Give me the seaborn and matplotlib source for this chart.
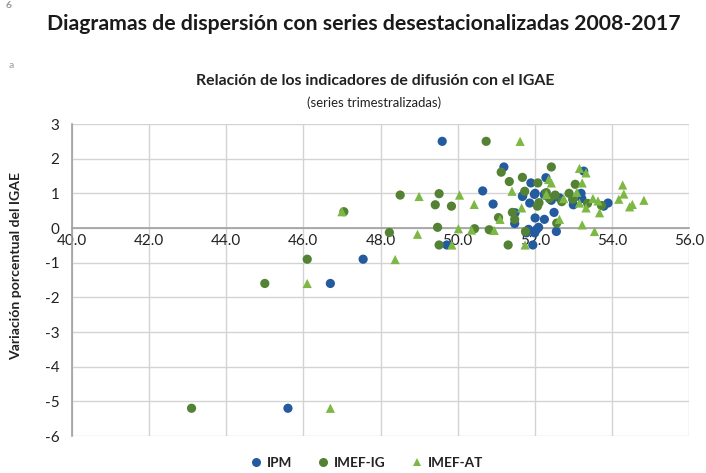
import matplotlib
matplotlib.use("Agg")
import matplotlib.pyplot as plt
import seaborn as sns
import pandas as pd
from matplotlib.lines import Line2D

# ---- data ----
ipm_x = [45.6, 46.7, 47.55, 49.6, 51.2, 53.27, 52.29, 51.9, 50.65, 52.01, 51.68, 52.43, 51.87,
         50.92, 53.0, 53.22, 53.2, 53.9, 53.79, 52.5, 51.49, 52.01, 52.25, 51.48, 52.1, 52.05,
         51.84, 52.56, 52.0, 49.72, 51.95, 52.26, 52.64, 52.99, 51.69, 51.99, 52.25, 51.78]
ipm_y = [-5.2, -1.6, -0.9, 2.5, 1.76, 1.64, 1.45, 1.30, 1.07, 1.0, 0.91, 0.80, 0.72,
         0.69, 0.67, 0.85, 1.0, 0.72, 0.63, 0.45, 0.44, 0.29, 0.25, 0.13, 0.02, -0.04,
         -0.04, -0.1, -0.14, -0.49, -0.49, 0.99, 0.87, 0.82, 0.94, 0.97, 0.95, -0.14]

ig_x = [43.1, 45.0, 46.1, 47.05, 50.74, 52.43, 51.13, 51.34, 51.68, 52.08, 53.05, 51.74, 48.51,
        49.52, 52.3, 52.53, 52.89, 52.99, 52.38, 52.7, 53.37, 53.73, 52.11, 52.07, 49.42, 49.84,
        51.06, 51.42, 51.48, 52.57, 49.48, 50.44, 50.82, 51.76, 48.23, 49.52, 51.31]
ig_y = [-5.2, -1.6, -0.9, 0.47, 2.5, 1.76, 1.61, 1.34, 1.46, 1.30, 1.26, 1.06, 0.95,
        0.99, 1.02, 0.95, 1.0, 0.83, 0.85, 0.76, 0.71, 0.65, 0.73, 0.63, 0.67, 0.63,
        0.30, 0.45, 0.25, 0.14, 0.02, -0.02, -0.05, -0.1, -0.13, -0.49, -0.49]

at_x = [46.7, 46.1, 48.38, 47.0, 51.62, 53.16, 53.33, 52.36, 52.43, 53.23, 54.28, 51.41, 53.09,
        54.31, 49.0, 50.05, 52.3, 52.75, 53.51, 53.64, 54.18, 54.83, 54.53, 54.46, 50.43, 53.16,
        53.33, 51.66, 53.68, 51.1, 52.64, 53.23, 50.02, 50.36, 50.95, 53.55, 48.96, 49.85, 51.75]
at_y = [-5.2, -1.6, -0.91, 0.47, 2.5, 1.72, 1.59, 1.40, 1.30, 1.30, 1.24, 1.06, 1.03,
        0.98, 0.91, 0.95, 0.97, 0.85, 0.85, 0.78, 0.83, 0.80, 0.68, 0.61, 0.68, 0.72,
        0.58, 0.58, 0.44, 0.25, 0.25, 0.09, -0.02, -0.06, -0.07, -0.1, -0.18, -0.49, -0.49]

series_names = ["IPM", "IMEF-IG", "IMEF-AT"]
x_ticks = [40.0, 42.0, 44.0, 46.0, 48.0, 50.0, 52.0, 54.0, 56.0]
y_ticks = [-6, -5, -4, -3, -2, -1, 0, 1, 2, 3]

df = pd.concat([
    pd.DataFrame({"x": ipm_x, "y": ipm_y, "serie": "IPM"}),
    pd.DataFrame({"x": ig_x, "y": ig_y, "serie": "IMEF-IG"}),
    pd.DataFrame({"x": at_x, "y": at_y, "serie": "IMEF-AT"}),
], ignore_index=True)

sns.set_theme(style="white")
plt.rcParams["font.family"] = ["Lato", "DejaVu Sans"]

colors = {"IPM": "#235B9E", "IMEF-IG": "#548235", "IMEF-AT": "#7DB844"}
markers = {"IPM": "o", "IMEF-IG": "o", "IMEF-AT": "^"}
W, H = 706, 473

fig = plt.figure(figsize=(W / 100, H / 100), dpi=100)
ax = fig.add_axes([72 / W, 1 - 436 / H, (689 - 72) / W, (436 - 124) / H])

sns.scatterplot(data=df, x="x", y="y", hue="serie", style="serie",
                hue_order=series_names, style_order=series_names,
                palette=colors, markers=markers, s=44, linewidth=0,
                ax=ax, legend=False, zorder=3)

ax.set_xlim(40, 56)
ax.set_ylim(-6, 3)
ax.set_xticks(x_ticks)
ax.set_xticklabels([f"{v:.1f}" for v in x_ticks])
ax.set_yticks(y_ticks)
ax.set_yticklabels([str(v) for v in y_ticks])
ax.grid(True, color="#D3D3D3", linewidth=1.0, zorder=0)
ax.set_axisbelow(True)
for s in ["top", "right"]:
    ax.spines[s].set_visible(False)
ax.spines["left"].set_color("#A0A0A0")
ax.spines["bottom"].set_color("#A0A0A0")
ax.spines["bottom"].set_position(("data", 0))
ax.spines["left"].set_linewidth(1.2)
ax.spines["bottom"].set_linewidth(1.2)
ax.tick_params(axis="both", length=0, labelsize=11, colors="#222222")
ax.tick_params(axis="y", pad=9)
ax.tick_params(axis="x", pad=4)
ax.set_xlabel("")
ax.set_ylabel("")

renderer = fig.canvas.get_renderer()


def fit_text(t, target_px, horizontal=True):
    bb = t.get_window_extent(renderer)
    cur = bb.width if horizontal else bb.height
    t.set_fontsize(t.get_fontsize() * target_px / cur)


t_title = fig.text(364 / W, 1 - 24 / H, "Diagramas de dispersión con series desestacionalizadas 2008-2017",
                   ha="center", va="center", fontsize=16, fontweight="bold", color="#1a1a1a")
fit_text(t_title, 638)
fig.text(6 / W, 1 - 6 / H, "6", ha="left", va="center", fontsize=7.5, fontweight="bold", color="#999999")
fig.text(9 / W, 1 - 65 / H, "a", ha="left", va="center", fontsize=7.5, color="#999999")
t_sub = fig.text(375 / W, 1 - 81 / H, "Relación de los indicadores de difusión con el IGAE",
                 ha="center", va="center", fontsize=12, fontweight="bold", color="#222222")
fit_text(t_sub, 356)
t_sub2 = fig.text(374 / W, 1 - 103 / H, "(series trimestralizadas)",
                  ha="center", va="center", fontsize=11, color="#222222")
fit_text(t_sub2, 134)
t_yl = fig.text(16 / W, 1 - 266 / H, "Variación porcentual del IGAE", rotation=90,
                ha="center", va="center", fontsize=12, fontweight="bold", color="#222222")
fit_text(t_yl, 186, horizontal=False)

handles = [Line2D([], [], linestyle="none", marker=markers[n], color=colors[n],
                  markersize=6.5 if n != "IMEF-AT" else 6, markeredgewidth=0) for n in series_names]
leg = fig.legend(handles, series_names, loc="center", bbox_to_anchor=(366 / W, 1 - 463 / H),
                 ncol=3, frameon=False, fontsize=9.8, handletextpad=0.3, columnspacing=1.8,
                 handlelength=1.0)
for t in leg.get_texts():
    t.set_fontweight("bold")
    t.set_color("#222222")

fig.savefig("out.png", dpi=100)
